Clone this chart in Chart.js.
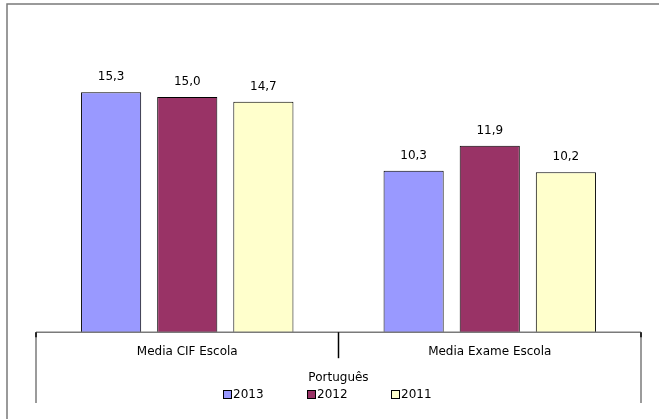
<!DOCTYPE html>
<html>
<head>
<meta charset="utf-8">
<script src="https://cdn.jsdelivr.net/npm/chart.js@4/dist/chart.umd.min.js"></script>
<style>
  html, body { margin: 0; padding: 0; background: #fff; }
  #wrap { width: 659px; height: 419px; }
</style>
</head>
<body>
<div id="wrap"><canvas id="chart" width="659" height="419"></canvas></div>
<script>
// Dados
const categories = ['Media CIF Escola', 'Media Exame Escola'];
const groupTitle = 'Português';
const years = ['2013', '2012', '2011'];
const values2013 = [15.3, 10.3];
const values2012 = [15.0, 11.9];
const values2011 = [14.7, 10.2];
const barColors = ['#9999FF', '#993366', '#FFFFCC'];

const FONT = "'DejaVu Sans', 'Liberation Sans', Arial, sans-serif";

// Rótulos de valores por cima das barras
const valueLabels = {
    id: 'valueLabels',
    afterDatasetsDraw(chart) {
        const ctx = chart.ctx;
        ctx.save();
        ctx.font = '12px ' + FONT;
        ctx.fillStyle = '#000';
        ctx.textAlign = 'center';
        ctx.textBaseline = 'alphabetic';
        chart.data.datasets.forEach((ds, i) => {
            chart.getDatasetMeta(i).data.forEach((bar, j) => {
                const txt = ds.data[j].toFixed(1).replace('.', ',');
                ctx.fillText(txt, bar.x, bar.y - 12);
            });
        });
        ctx.restore();
    }
};

// Moldura, eixo de categorias e legenda
const frame = {
    id: 'frame',
    afterDraw(chart) {
        const ctx = chart.ctx;
        const x = chart.scales.x;
        const area = chart.chartArea;
        const base = area.bottom;
        const legendY = x.bottom + 10;
        const lineEnd = legendY + 8;
        ctx.save();

        // moldura exterior
        ctx.strokeStyle = '#7a7a7a';
        ctx.lineWidth = 1.5;
        ctx.strokeRect(7, 4, 700, 500);

        // linha do eixo
        ctx.beginPath();
        ctx.moveTo(area.left, base);
        ctx.lineTo(area.right, base);
        ctx.stroke();

        // linhas verticais das extremidades
        [area.left, area.right].forEach(px => {
            ctx.strokeStyle = '#7a7a7a';
            ctx.beginPath();
            ctx.moveTo(px, base);
            ctx.lineTo(px, lineEnd);
            ctx.stroke();
            ctx.strokeStyle = '#000';
            ctx.beginPath();
            ctx.moveTo(px, base);
            ctx.lineTo(px, base + 5);
            ctx.stroke();
        });

        // separador entre categorias
        const sep = (x.getPixelForValue(0) + x.getPixelForValue(1)) / 2;
        ctx.strokeStyle = '#000';
        ctx.beginPath();
        ctx.moveTo(sep, base);
        ctx.lineTo(sep, base + 26);
        ctx.stroke();

        // legenda
        ctx.font = '12px ' + FONT;
        ctx.textBaseline = 'middle';
        ctx.textAlign = 'left';
        ctx.lineWidth = 1;
        let lx = Math.round((area.left + area.right) / 2) - 116;
        chart.data.datasets.forEach(ds => {
            ctx.fillStyle = ds.backgroundColor;
            ctx.fillRect(lx + 0.5, legendY - 4.5, 8, 8);
            ctx.strokeStyle = '#000';
            ctx.strokeRect(lx + 0.5, legendY - 4.5, 8, 8);
            ctx.fillStyle = '#000';
            ctx.fillText(ds.label, lx + 10, legendY);
            lx += 84;
        });
        ctx.restore();
    }
};

new Chart(document.getElementById('chart'), {
    type: 'bar',
    data: {
        labels: categories,
        datasets: [
            { label: years[0], data: values2013, backgroundColor: barColors[0] },
            { label: years[1], data: values2012, backgroundColor: barColors[1] },
            { label: years[2], data: values2011, backgroundColor: barColors[2] }
        ].map(ds => Object.assign(ds, {
            borderColor: '#000',
            borderWidth: 1,
            categoryPercentage: 0.755,
            barPercentage: 0.79
        }))
    },
    options: {
        responsive: false,
        devicePixelRatio: 1,
        animation: false,
        layout: {
            padding: { left: 36, right: 18, top: 50, bottom: 34 }
        },
        plugins: {
            legend: { display: false },
            tooltip: { enabled: false }
        },
        scales: {
            x: {
                grid: { display: false },
                border: { display: false },
                ticks: {
                    color: '#000',
                    padding: 4,
                    font: { family: FONT, size: 12 }
                },
                title: {
                    display: true,
                    text: groupTitle,
                    color: '#000',
                    padding: { top: 8, bottom: 0 },
                    font: { family: FONT, size: 12 }
                }
            },
            y: {
                display: false,
                min: 0,
                max: 18
            }
        }
    },
    plugins: [valueLabels, frame]
});
</script>
</body>
</html>
